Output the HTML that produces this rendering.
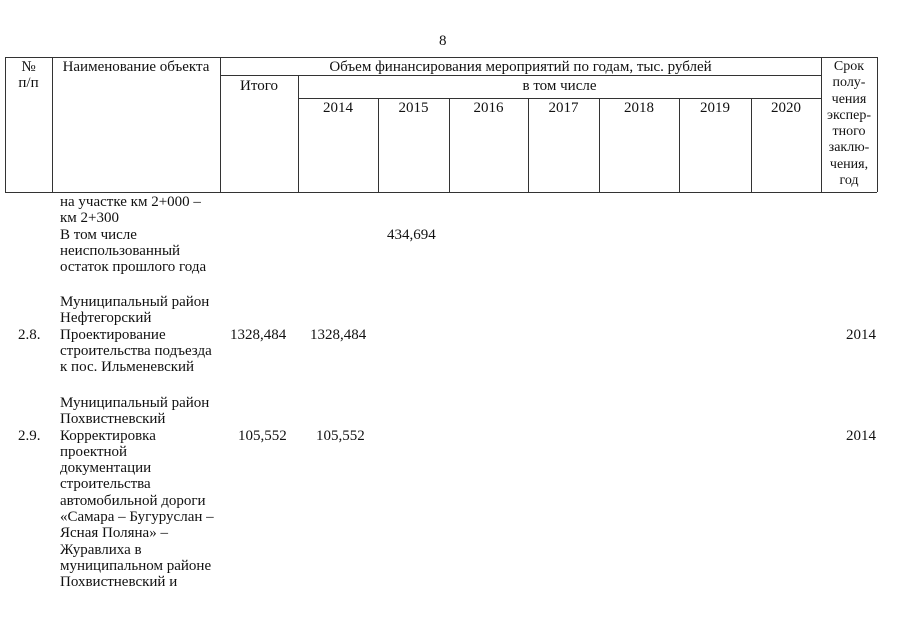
<!DOCTYPE html>
<html><head><meta charset="utf-8"><style>
body{margin:0;width:905px;height:640px;background:#fff;position:relative;overflow:hidden;font-family:"Liberation Serif","DejaVu Serif",serif;font-size:15px;color:#111}
.l{position:absolute;background:#333}
.t{position:absolute;white-space:nowrap;line-height:16.3px}
.c{text-align:center}
</style></head><body>
<div class="t" style="left:439px;top:33px">8</div>
<div class="l" style="left:5px;top:57px;width:872px;height:1px"></div>
<div class="l" style="left:220px;top:75px;width:601px;height:1px"></div>
<div class="l" style="left:298px;top:98px;width:523px;height:1px"></div>
<div class="l" style="left:5px;top:192px;width:872px;height:1px"></div>
<div class="l" style="left:5px;top:57px;width:1px;height:135px"></div>
<div class="l" style="left:52px;top:57px;width:1px;height:135px"></div>
<div class="l" style="left:220px;top:57px;width:1px;height:135px"></div>
<div class="l" style="left:298px;top:75px;width:1px;height:117px"></div>
<div class="l" style="left:378px;top:98px;width:1px;height:94px"></div>
<div class="l" style="left:449px;top:98px;width:1px;height:94px"></div>
<div class="l" style="left:528px;top:98px;width:1px;height:94px"></div>
<div class="l" style="left:599px;top:98px;width:1px;height:94px"></div>
<div class="l" style="left:679px;top:98px;width:1px;height:94px"></div>
<div class="l" style="left:751px;top:98px;width:1px;height:94px"></div>
<div class="l" style="left:821px;top:57px;width:1px;height:135px"></div>
<div class="l" style="left:877px;top:57px;width:1px;height:135px"></div>
<div class="t c" style="left:5px;width:47px;top:59px">№<br>п/п</div>
<div class="t c" style="left:52px;width:168px;top:59px">Наименование объекта</div>
<div class="t c" style="left:220px;width:601px;top:59px">Объем финансирования мероприятий по годам, тыс. рублей</div>
<div class="t c" style="left:220px;width:78px;top:78px">Итого</div>
<div class="t c" style="left:298px;width:523px;top:78px">в том числе</div>
<div class="t c" style="left:298px;width:80px;top:100px">2014</div>
<div class="t c" style="left:378px;width:71px;top:100px">2015</div>
<div class="t c" style="left:449px;width:79px;top:100px">2016</div>
<div class="t c" style="left:528px;width:71px;top:100px">2017</div>
<div class="t c" style="left:599px;width:80px;top:100px">2018</div>
<div class="t c" style="left:679px;width:72px;top:100px">2019</div>
<div class="t c" style="left:751px;width:70px;top:100px">2020</div>
<div class="t c" style="left:821px;width:56px;top:59px;font-size:14px">Срок<br>полу-<br>чения<br>экспер-<br>тного<br>заклю-<br>чения,<br>год</div>
<div class="t" style="left:60px;top:194px">на участке км 2+000 –<br>км 2+300<br>В том числе<br>неиспользованный<br>остаток прошлого года</div>
<div class="t" style="left:387px;top:227px">434,694</div>
<div class="t" style="left:60px;top:294px">Муниципальный район<br>Нефтегорский<br>Проектирование<br>строительства подъезда<br>к пос. Ильменевский</div>
<div class="t" style="left:18px;top:327px">2.8.</div>
<div class="t" style="left:230px;top:327px">1328,484</div>
<div class="t" style="left:310px;top:327px">1328,484</div>
<div class="t" style="left:846px;top:327px">2014</div>
<div class="t" style="left:60px;top:395px">Муниципальный район<br>Похвистневский<br>Корректировка<br>проектной<br>документации<br>строительства<br>автомобильной дороги<br>«Самара – Бугуруслан –<br>Ясная Поляна» –<br>Журавлиха в<br>муниципальном районе<br>Похвистневский и</div>
<div class="t" style="left:18px;top:428px">2.9.</div>
<div class="t" style="left:238px;top:428px">105,552</div>
<div class="t" style="left:316px;top:428px">105,552</div>
<div class="t" style="left:846px;top:428px">2014</div>
</body></html>
